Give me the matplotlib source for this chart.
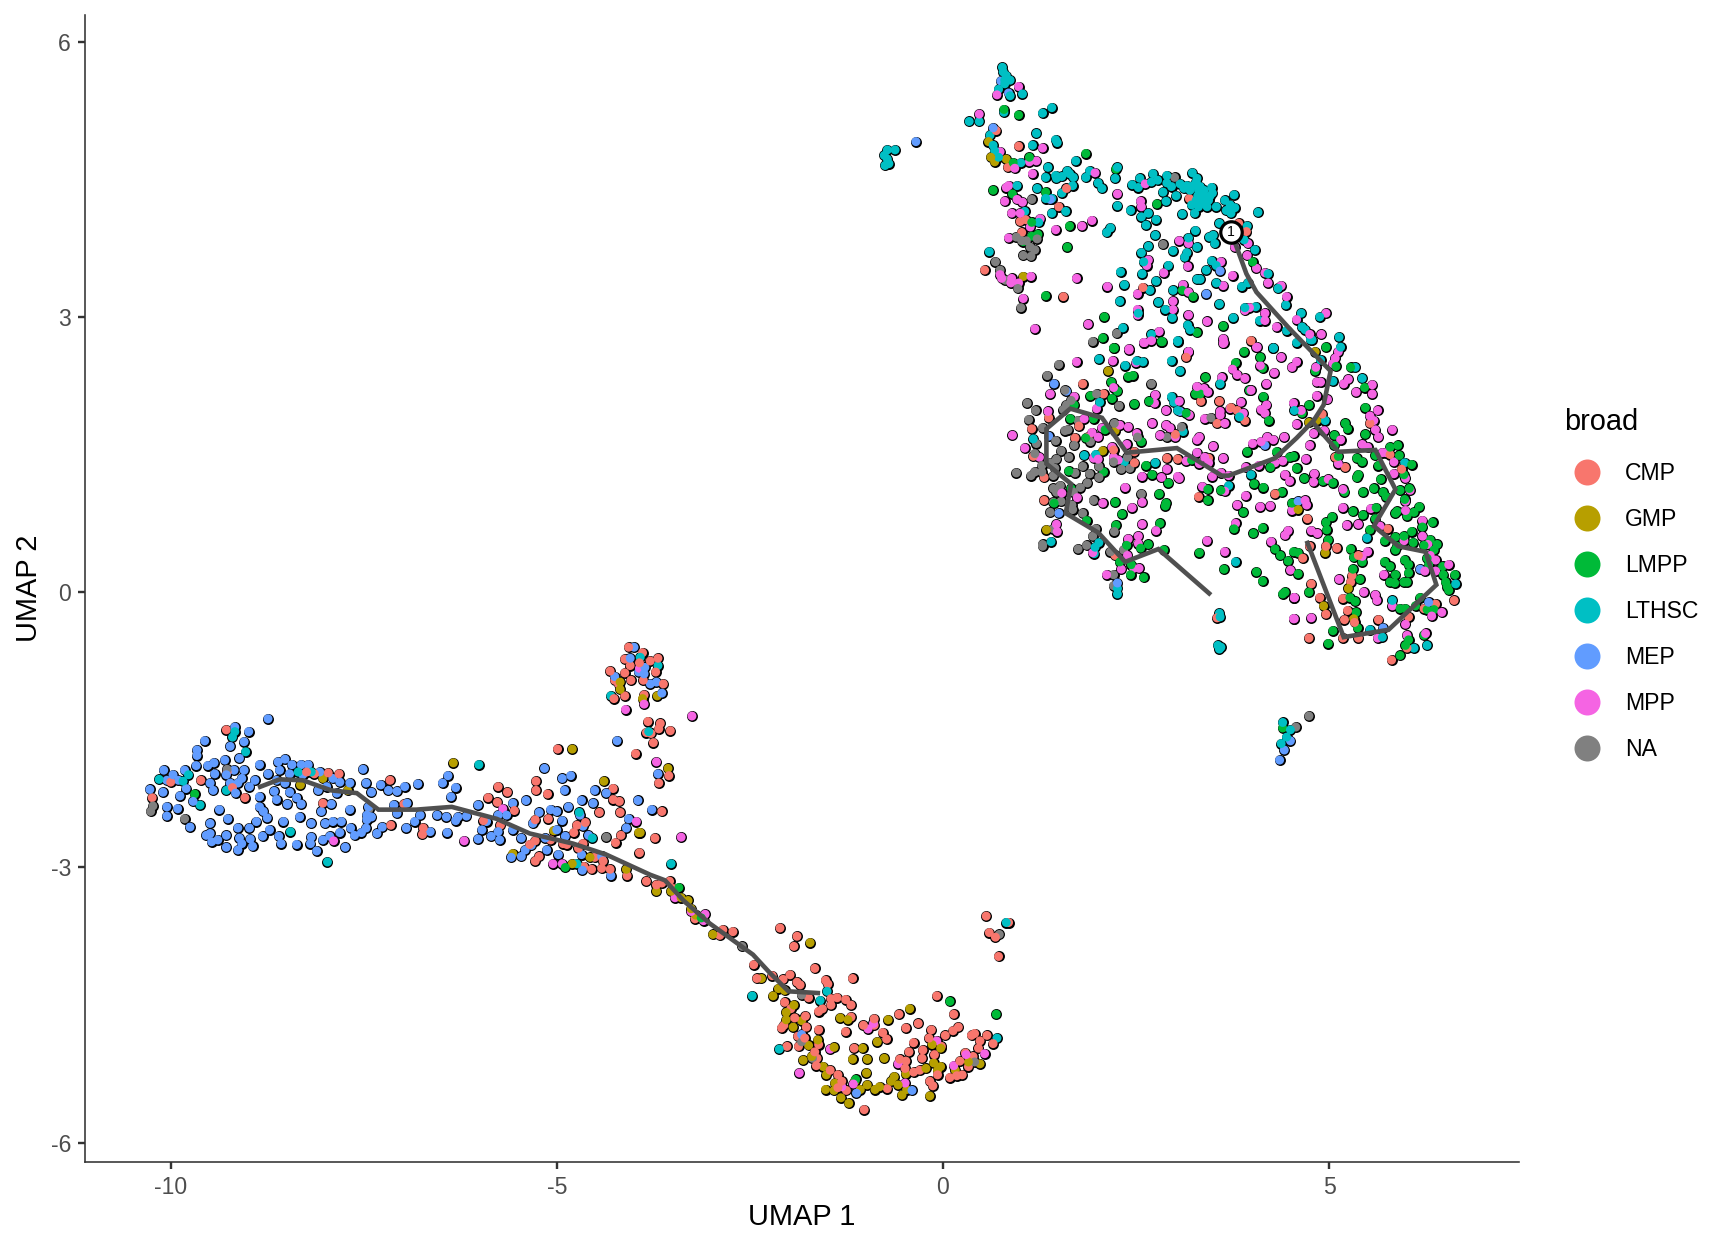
import numpy as np
import matplotlib
matplotlib.use("Agg")
import matplotlib.pyplot as plt
from matplotlib.lines import Line2D

plt.rcParams["font.family"] = ["Liberation Sans", "DejaVu Sans"]
plt.rcParams["axes.unicode_minus"] = False

# UMAP coordinates of the cells, one list per broad cell type
CMP = [(-9.28,-1.50),(-10.0,-2.07),(-10.24,-2.24),(-9.61,-2.05),(-9.27,-1.96),(-9.2,-2.13),(-9.04,-2.24),(-8.24,-1.96),(-8.14,-1.98),(-7.96,-1.97),(-7.82,-1.98),(-7.16,-2.05),(-6.98,-2.31),(-7.15,-2.54),(-6.73,-2.57),(-6.74,-2.64),(-8.03,-2.30),(-5.76,-2.12),(-5.64,-2.18),(-5.89,-2.24),(-5.77,-2.29),(-5.55,-2.38),(-5.95,-2.49),(-5.73,-2.54),(-5.27,-2.06),(-5.27,-2.16),(-5.12,-2.20),(-4.99,-1.71),(-4.27,-2.14),(-4.27,-2.26),(-4.19,-2.28),(-4.45,-2.40),(-4.18,-2.40),(-5.11,-2.47),(-5.28,-2.48),(-4.74,-2.54),(-4.63,-2.51),(-4.78,-2.62),(-4.17,-2.65),(-4.24,-2.73),(-3.93,-2.84),(-5.35,-2.75),(-5.28,-2.71),(-5.08,-2.70),(-4.92,-2.74),(-4.87,-2.75),(-4.72,-2.79),(-4.66,-2.74),(-5.23,-2.88),(-5.28,-2.93),(-4.65,-2.99),(-4.55,-3.02),(-4.42,-3.01),(-4.40,-2.93),(-4.51,-2.89),(-4.31,-3.02),(-4.09,-3.09),
(-3.64,-2.39),(-3.73,-2.68),(-3.84,-3.15),(-3.71,-3.19),(-3.64,-3.17),(-3.54,-3.15),(-3.49,-3.23),(-3.21,-3.56),(-2.85,-3.68),(-2.89,-3.74),(-2.72,-3.70),(-2.11,-3.66),(-1.89,-3.75),(-1.93,-3.86),(-2.45,-4.06),(-2.41,-4.21),(-2.21,-4.18),(-2.07,-4.22),(-1.98,-4.17),(-1.89,-4.25),(-1.85,-4.28),(-1.66,-4.10),(-1.52,-4.23),(-1.49,-4.27),(-1.17,-4.21),(-1.74,-4.42),(-1.45,-4.43),(-1.37,-4.42),(-1.26,-4.44),(-1.19,-4.50),(-1.45,-4.50),(-1.56,-4.54),(-1.61,-4.57),(-2.05,-4.47),(-1.97,-4.54),(-1.92,-4.64),(-1.78,-4.62),(-2.06,-4.72),(-2.09,-4.75),(-1.77,-4.74),(-1.61,-4.77),(-1.88,-4.84),(-1.79,-4.86),(-1.87,-4.95),(-2.02,-4.95),(-1.61,-4.93),(-1.66,-5.01),(-1.63,-5.08),(-1.64,-5.16),(-1.46,-5.21),(-1.36,-5.26),(-1.31,-5.33),(-1.36,-5.40),(-1.25,-5.43),(-1.02,-5.64),(-0.72,-5.41),(-1.19,-4.63),(-1.26,-4.79),(-1.03,-4.72),(-0.89,-4.65),(-0.89,-4.72),(-0.78,-4.80),(-0.73,-4.87),(-0.57,-4.60),(-0.48,-4.75),(-0.32,-4.70),(-1.15,-4.97),(-0.08,-4.40),(0.14,-4.60),(0.20,-4.74),(0.13,-4.78),(0.03,-4.83),(-0.15,-4.77),(-0.18,-4.86),(-0.38,-4.91),(-0.44,-5.01),(-0.26,-4.99),(-0.27,-5.08),(-0.11,-5.04),(-0.02,-4.95),(-0.56,-5.09),(-0.48,-5.11),(-0.49,-5.19),(-0.38,-5.23),(-0.30,-5.21),(-0.17,-5.33),(-0.13,-5.38),(-0.07,-5.26),(0.09,-5.29),(0.18,-5.27),(0.25,-5.26),(0.33,-5.17),(0.22,-5.11),(0.29,-5.02),(0.46,-4.97),(0.39,-5.06),(0.37,-4.83),(0.41,-4.81),(0.48,-4.89),(0.57,-4.83),(0.65,-4.92),(0.56,-3.53),(0.85,-3.60),(0.60,-3.71),(0.68,-3.76),(0.72,-3.97),
(-4.07,-0.60),(-3.89,-0.66),(-4.12,-0.73),(-3.69,-0.72),(-3.79,-0.75),(-4.31,-0.86),(-4.12,-0.88),(-4.04,-0.96),(-3.93,-0.77),(-3.72,-0.87),(-3.62,-1.0),(-3.88,-0.96),(-4.2,-1.0),(-4.25,-0.96),(-4.05,-0.80),(-4.26,-1.16),(-4.12,-1.13),(-3.87,-1.12),(-3.82,-1.41),(-3.66,-1.43),(-3.68,-1.49),(-3.53,-1.51),(-3.84,-1.53),(-3.78,-1.54),(-3.75,-1.64),(-3.98,-1.76),(-3.55,-2.0),(-3.68,-2.08),
(0.69,5.03),(0.98,4.86),(0.84,4.63),(1.60,4.40),(1.50,4.20),(1.07,4.06),(1.0,4.04),(1.02,3.92),(0.54,3.51),(1.56,3.22),(3.19,4.29),(2.59,3.32),(3.83,4.02),(3.93,3.93),(3.99,2.74),
(3.15,2.56),(1.81,2.27),(2.08,2.16),(3.34,2.08),(1.37,1.90),(1.15,1.78),(1.76,1.81),(1.71,1.68),(1.88,1.69),(2.21,1.55),(2.48,1.53),(2.48,1.41),(2.90,1.46),(3.04,1.45),(3.44,1.46),(3.58,2.08),(3.73,2.01),(3.81,1.98),(3.91,1.87),(3.55,1.84),(3.01,1.72),(1.17,1.48),(1.31,1.25),(1.31,1.0),(3.31,1.04),(4.30,1.07),(3.55,-0.28),(2.23,0.40),
(4.91,1.94),(5.53,1.84),(5.08,1.47),(5.21,1.36),(5.79,1.50),(5.94,1.34),(4.72,0.80),(5.76,0.69),(4.75,0.50),(4.96,0.50),(5.10,0.48),(5.38,0.40),(4.66,0.37),(5.30,0.18),(5.28,0.11),(4.77,0.09),(4.88,-0.06),(5.18,-0.07),(4.96,-0.24),(5.24,-0.20),(5.20,-0.30),(5.33,-0.33),(5.64,-0.30),(4.74,-0.50),(5.18,-0.50),(5.38,-0.50),(6.38,-0.13),(6.23,-0.18),(6.62,-0.09),(6.03,-0.27),(5.81,-0.74),(6.01,-0.61)]

GMP = [(-6.34,-1.86),(-4.80,-1.71),(-4.39,-2.06),(-8.03,-2.03),(-8.32,-2.10),(-7.71,-2.16),(-3.94,-2.62),(-5.04,-2.60),(-5.57,-2.85),(-4.57,-2.89),(-4.80,-2.96),(-4.10,-3.02),
(-3.92,-2.62),(-3.71,-3.26),(-3.52,-3.26),(-3.39,-3.33),(-3.30,-3.36),(-3.26,-3.45),(-3.20,-3.52),(-2.98,-3.73),(-1.72,-3.82),(-2.35,-4.21),(-2.20,-4.40),(-2.13,-4.32),(-2.05,-4.34),(-1.93,-4.50),(-2.03,-4.58),(-2.03,-4.66),(-1.94,-4.74),(-1.83,-4.67),(-1.33,-4.64),(-1.23,-4.66),(-0.71,-4.66),(-0.43,-4.54),(-0.85,-4.90),(-1.62,-4.88),(-1.74,-4.94),(-1.41,-4.96),(-1.04,-4.97),(-1.17,-5.09),(-0.98,-5.09),(-0.76,-5.08),(-1.81,-5.10),(-1.70,-5.06),(-1.55,-5.17),(-1.51,-5.26),(-0.99,-5.24),(-1.40,-5.35),(-1.52,-5.42),(-1.41,-5.43),(-1.32,-5.51),(-1.22,-5.57),(-1.14,-5.33),(-1.07,-5.42),(-0.98,-5.37),(-0.88,-5.42),(-0.82,-5.39),(-0.67,-5.33),(-0.63,-5.28),(-0.58,-5.37),(-0.53,-5.48),(-0.47,-5.42),(-0.48,-5.25),(-0.22,-5.19),(-0.12,-5.13),(-0.03,-5.17),(-0.07,-5.21),(-0.17,-5.49),(-0.14,-4.93),(-0.03,-4.97),(0.16,-5.21),(0.33,-5.12),(0.48,-5.14),
(-4.18,-1.06),(-4.18,-0.98),(-3.89,-1.16),(-3.70,-1.13),(-3.56,-1.92),
(0.59,4.91),(0.62,4.74),(0.67,4.69),(0.82,4.72),(1.04,3.44),(2.14,2.41),(2.23,1.76),(2.07,1.54),(1.34,0.68),(4.60,0.90),
(4.82,2.62),(4.74,1.85),(4.84,1.87),(4.95,0.43),(5.25,0.04),(4.93,-0.15),(5.32,-0.29)]

LMPP = [(-9.69,-2.20),(-4.89,-3.0),(-3.42,-3.22),(-3.13,-3.55),(-1.13,-5.31),(0.09,-4.46),(0.69,-4.60),
(0.79,5.26),(0.98,5.20),(1.12,4.74),(0.91,4.68),(1.85,4.78),(0.65,4.38),(0.90,4.34),(1.33,4.36),(1.15,4.03),(1.15,3.88),(1.23,3.90),(1.64,3.99),(1.61,3.76),(1.33,3.23),(2.24,4.61),(2.77,4.23),(3.10,3.29),(3.24,3.22),(2.09,3.00),(2.07,2.77),(2.83,2.73),(3.29,2.83),(3.63,2.90),(4.01,3.60),(2.21,2.66),(1.04,3.82),
(2.22,2.66),(2.84,2.73),(3.90,2.62),(3.79,2.50),(4.11,2.56),(4.14,2.44),(2.40,2.35),(2.46,2.36),(2.18,2.29),(2.26,2.19),(1.91,2.14),(2.19,2.11),(2.48,2.05),(2.67,2.08),(3.40,2.34),(3.27,2.16),(3.33,2.16),(3.97,2.20),(4.15,2.13),(4.22,1.87),(3.15,1.95),(1.65,1.89),(1.95,1.89),(1.70,2.04),(1.85,1.68),(2.10,1.77),(2.57,1.64),(1.63,1.32),(2.08,1.31),(2.63,1.38),(2.71,1.28),(2.92,1.19),(2.80,1.07),(2.88,0.94),(2.89,0.97),(2.23,0.98),(2.32,0.85),(1.44,0.97),(1.66,1.13),(1.86,0.78),(2.24,0.73),(2.81,0.75),(2.38,0.51),(2.56,0.48),(2.66,0.52),(2.86,0.46),(2.29,0.33),(2.44,0.30),(2.43,0.19),(2.60,0.16),(3.32,0.43),(3.64,0.25),(4.06,0.22),(4.14,0.12),(4.40,-0.02),(4.43,-0.0),(4.02,0.64),(4.14,0.70),(3.77,0.69),(3.89,0.87),(3.43,1.12),(3.43,1.0),(3.60,1.11),(4.03,1.18),(4.15,1.14),(4.39,1.09),(4.52,0.97),(3.94,1.53),(4.24,1.36),(4.32,1.53),(4.49,1.47),(4.54,1.48),(4.58,1.35),(4.30,0.47),(4.37,0.40),(4.47,0.34),(4.54,0.44),(4.60,0.20),(4.60,0.43),(3.22,1.44),
(4.96,2.67),(4.82,2.41),(5.09,2.46),(5.28,2.45),(5.46,2.23),(5.47,2.01),(4.74,2.04),(4.65,1.95),(5.21,1.84),(5.24,1.78),(5.47,1.72),(5.07,1.71),(5.07,1.60),(5.12,1.48),(5.60,1.49),(5.79,1.58),(5.89,1.60),(5.91,1.49),(5.64,1.38),(6.07,1.39),(5.36,1.46),(5.43,1.42),(5.38,1.28),(5.36,1.25),(5.67,1.23),(5.97,1.28),(4.68,1.24),(4.92,1.21),(5.05,1.19),(5.20,1.09),(5.44,1.09),(5.58,1.13),(5.70,1.09),(5.74,1.04),(5.92,1.11),(5.98,1.01),(6.04,1.13),(5.31,0.88),(5.04,0.82),(4.96,0.76),(4.97,0.68),(5.44,0.84),(5.61,0.92),(5.60,0.80),(5.53,0.68),(5.88,0.88),(5.86,0.86),(6.01,0.83),(6.10,0.87),(6.17,0.93),(6.34,0.76),(6.21,0.71),(5.72,0.56),(5.86,0.60),(5.97,0.61),(6.07,0.66),(6.09,0.54),(5.88,0.50),(5.86,0.46),(4.99,0.57),(5.28,0.47),(5.32,0.38),(5.43,0.33),(5.31,0.25),(5.40,0.14),(5.72,0.33),(5.79,0.28),(5.98,0.35),(6.03,0.30),(6.03,0.21),(5.86,0.19),(5.79,0.11),(5.85,0.10),(5.97,0.11),(6.01,0.11),(6.23,0.51),(6.31,0.57),(6.40,0.52),(6.36,0.46),(6.27,0.37),(6.29,0.30),(6.47,0.28),(6.48,0.19),(6.51,0.11),(6.55,0.02),(6.63,0.19),(6.53,0.06),(5.34,-0.10),(5.27,-0.06),(4.74,-0.00),(5.35,-0.22),(5.92,-0.18),(5.99,-0.18),(6.18,-0.06),(6.12,-0.15),(6.27,-0.19),(6.36,-0.19),(5.37,-0.39),(5.05,-0.42),(4.99,-0.56),(5.92,-0.69),(6.03,-0.52),(5.99,-0.58),(6.23,-0.47),(4.40,-1.48)]

LTHSC = [(-6.01,-1.88),(-10.15,-2.04),(-9.77,-1.99),(-9.84,-2.06),(-9.28,-2.16),(-9.03,-1.74),(-9.17,-1.52),(-9.2,-1.58),(-9.62,-2.32),(-8.45,-2.61),(-7.97,-2.94),(-8.35,-1.96),(-8.18,-1.96),(-4.71,-2.40),(-4.54,-2.68),(-4.74,-2.96),
(-3.52,-2.96),(-2.47,-4.40),(-1.50,-4.35),(-1.59,-4.45),(-2.12,-4.98),(0.70,-4.86),(0.82,-3.60),(-3.92,-0.71),(-3.69,-0.80),(-4.30,-1.13),(-3.81,-1.52),
(-0.72,4.82),(-0.76,4.76),(-0.72,4.72),(-0.70,4.67),(-0.75,4.65),(-0.62,4.82),(4.4,-1.42),(4.5,-1.5),(4.45,-1.58),(4.38,-1.65),(3.56,-0.58),(3.60,-0.60),(3.58,-0.62),
(0.77,5.72),(0.78,5.67),(0.82,5.63),(0.80,5.58),(0.87,5.58),(0.80,5.54),(0.72,5.48),(0.87,5.41),(1.03,5.43),(0.79,5.23),(0.47,5.13),(0.34,5.13),(1.29,5.22),(1.41,5.28),(1.21,5.00),(1.16,4.87),(1.46,4.93),(1.48,4.90),(0.61,4.98),(0.65,4.87),(0.67,4.81),(0.72,4.74),(1.01,4.68),(1.72,4.70),(1.36,4.63),(1.33,4.52),(1.46,4.54),(1.47,4.51),(1.54,4.53),(1.61,4.59),(1.69,4.52),(1.68,4.43),(1.64,4.56),(1.54,4.35),(1.22,4.40),(1.33,4.29),(1.41,4.29),(0.96,4.43),(1.41,4.13),(1.59,4.15),(1.06,4.15),(1.24,4.03),
(1.90,4.59),(1.85,4.52),(2.01,4.46),(2.06,4.40),(2.23,4.51),(2.26,4.63),(2.26,4.21),(2.43,4.16),(2.45,4.44),(2.53,4.41),(2.55,4.51),(2.57,4.09),(2.66,4.13),(2.63,4.00),(2.76,4.06),(2.70,4.47),(2.72,4.56),(2.78,4.49),(2.90,4.54),(2.90,4.46),(2.96,4.42),(2.85,4.36),(2.89,4.26),(3.02,4.32),(3.07,4.45),(3.16,4.43),(3.23,4.57),(3.29,4.51),(3.24,4.43),(3.31,4.38),(3.35,4.31),(3.48,4.41),(3.49,4.35),(3.37,4.34),(3.44,4.27),(3.22,4.22),(3.31,4.20),(3.42,4.20),(3.54,4.20),(3.10,4.12),(3.26,4.13),(3.65,4.27),(3.72,4.22),(3.78,4.19),(3.67,4.16),(3.73,4.13),(3.77,4.33),(4.08,4.14),(3.58,4.02),(3.94,3.99),
(3.28,4.47),(3.33,4.42),(3.38,4.38),(3.30,4.32),(3.40,4.28),(3.36,4.24),(3.28,4.27),(3.46,4.32),(3.12,4.40),(3.20,4.38),
(2.12,3.92),(2.17,3.97),(2.75,3.89),(3.27,3.94),(3.45,3.87),(3.52,3.80),(3.50,3.89),(3.90,3.84),(4.04,3.73),(2.66,3.77),(2.57,3.70),(2.60,3.60),(2.58,3.47),(2.98,3.72),(2.92,3.56),(3.18,3.86),(3.29,3.76),(3.16,3.70),(3.13,3.65),(3.48,3.61),(3.54,3.56),(3.41,3.51),(2.30,3.49),(2.35,3.35),(2.76,3.39),(2.68,3.29),(3.29,3.41),(3.33,3.41),(2.98,3.29),(3.54,3.37),(3.87,3.33),(3.95,3.37),(0.6,3.71),(2.29,3.17),(2.79,3.16),(2.88,3.08),(2.97,2.99),(3.58,3.14),(3.91,3.10),(4.05,3.11),(3.76,2.99),(4.10,2.96),(3.17,2.91),(3.20,2.86),(2.33,2.88),(2.70,2.81),(3.04,2.74),(4.28,2.66),(4.44,3.13),(4.45,2.85),(4.21,3.47),(4.34,3.31),(2.53,3.04),
(2.02,2.54),(2.36,2.47),(2.59,2.51),(2.96,2.52),(3.07,2.41),(3.04,2.73),(4.28,2.66),(4.58,2.72),(2.51,2.52),(2.03,2.07),(2.96,2.13),(2.99,2.07),(3.04,1.98),(3.11,1.75),(3.59,2.27),(3.84,1.91),(4.55,1.98),(1.17,1.67),(1.83,1.49),(1.98,1.50),(2.35,1.42),(2.75,1.41),(3.99,1.28),(3.70,1.16),(2.02,0.54),(1.97,0.49),(1.96,0.42),(1.40,0.55),(3.79,0.33),(2.26,-0.02),(2.26,0.04),(3.58,-0.23),(3.59,-0.27),
(4.64,3.04),(4.88,3.0),(4.65,2.89),(4.69,2.86),(4.76,2.75),(4.78,2.75),(5.13,2.78),(5.15,2.67),(4.89,2.53),(5.05,2.30),(5.34,2.45),(5.43,2.33),(4.95,1.87),(5.98,1.41),(5.49,0.59),(6.64,0.09),(5.82,-0.09),(5.53,-0.41),(5.69,-0.49),(6.10,-0.61),(6.27,-0.58)]

MEP = [(-8.74,-1.38),(-9.17,-1.47),(-8.99,-1.52),(-9.56,-1.62),(-9.05,-1.63),(-9.23,-1.68),(-9.66,-1.72),(-9.66,-1.78),(-9.11,-1.81),(-9.67,-1.89),(-9.30,-1.83),(-9.52,-1.89),(-9.44,-1.86),(-10.09,-1.94),(-9.82,-1.94),(-9.97,-1.99),(-9.90,-2.05),(-10.05,-2.05),(-9.43,-1.98),(-9.18,-1.94),(-9.05,-1.94),(-9.28,-1.99),(-9.08,-2.03),(-9.13,-2.08),(-9.23,-2.08),(-8.85,-1.88),(-8.61,-1.85),(-8.52,-1.82),(-8.43,-1.88),(-8.31,-1.88),(-8.22,-1.88),(-8.74,-1.98),(-8.59,-1.94),(-8.46,-1.98),(-8.91,-2.05),(-8.98,-2.12),(-8.63,-2.05),(-8.52,-2.08),(-8.29,-1.99),(-8.07,-1.96),(-7.90,-2.03),(-7.81,-2.07),(-7.98,-2.12),(-8.09,-2.16),(-7.85,-2.19),(-7.68,-2.08),(-7.51,-1.93),(-7.47,-2.08),(-7.40,-2.18),(-7.28,-2.10),(-7.18,-2.16),(-7.07,-2.17),(-6.97,-2.12),(-6.80,-2.09),(-7.68,-2.37),(-7.44,-2.34),(-7.46,-2.43),(-7.40,-2.45),(-7.46,-2.48),(-7.11,-2.32),(-6.94,-2.30),(-7.07,-2.41),(-6.77,-2.43),(-6.84,-2.50),(-6.95,-2.57),(-6.64,-2.61),(-6.55,-2.43),(-6.43,-2.45),(-6.28,-2.45),(-6.31,-2.49),(-6.17,-2.44),(-6.42,-2.62),(-6.37,-2.23),(-6.31,-2.13),(-6.48,-2.08),(-6.41,-2.00),(-6.02,-2.32),(-5.91,-2.50),(-5.97,-2.59),(-6.02,-2.69),(-5.85,-2.66),(-5.74,-2.70),(-5.76,-2.61),(-5.65,-2.43),(-5.76,-2.43),(-5.57,-2.59),(-5.57,-2.30),(-5.40,-2.27),(-5.46,-2.68),(-5.46,-2.88),(-5.59,-2.89),(-5.41,-2.81),(-5.33,-2.76),(-5.31,-2.52),(-5.23,-2.40),(-5.13,-2.81),(-5.08,-2.37),(-5.00,-2.39),(-4.93,-2.49),(-5.00,-2.59),(-5.16,-1.92),(-4.93,-2.03),(-4.82,-2.00),(-4.90,-2.16),(-4.85,-2.34),(-4.68,-2.27),(-4.53,-2.30),(-4.70,-2.43),(-4.66,-2.55),(-4.59,-2.65),(-4.51,-2.16),(-4.36,-2.19),(-3.95,-2.27),(-4.10,-2.57),(-4.07,-2.47),(-4.22,-1.62),(-5.15,-2.68),(-4.89,-2.66),(-4.98,-2.86),(-4.68,-2.86),(-4.67,-3.03),(-4.30,-3.09),(-4.42,-2.88),
(-10.27,-2.15),(-10.10,-2.18),(-9.88,-2.22),(-9.80,-2.14),(-9.71,-2.28),(-9.49,-2.08),(-9.45,-2.16),(-9.16,-2.19),(-8.85,-2.23),(-8.85,-2.34),(-8.80,-2.39),(-8.75,-2.46),(-8.89,-2.50),(-8.98,-2.57),(-10.05,-2.34),(-10.05,-2.44),(-9.91,-2.36),(-9.37,-2.37),(-9.26,-2.47),(-9.49,-2.52),(-9.75,-2.56),(-9.49,-2.63),(-9.54,-2.65),(-9.47,-2.72),(-9.39,-2.70),(-9.28,-2.78),(-9.28,-2.65),(-9.13,-2.57),(-9.11,-2.68),(-9.13,-2.81),(-9.08,-2.74),(-8.97,-2.69),(-8.94,-2.77),(-8.81,-2.66),(-8.72,-2.59),(-8.60,-2.66),(-8.57,-2.74),(-8.37,-2.75),(-8.54,-2.50),(-8.33,-2.45),(-8.18,-2.52),(-8.63,-2.26),(-8.49,-2.31),(-8.46,-2.18),(-8.37,-2.24),(-8.31,-2.31),(-8.05,-2.39),(-7.92,-2.31),(-8.00,-2.52),(-7.90,-2.50),(-7.79,-2.50),(-7.67,-2.57),(-7.47,-2.57),(-7.53,-2.62),(-7.62,-2.65),(-7.81,-2.62),(-7.94,-2.66),(-8.03,-2.70),(-8.18,-2.67),(-8.19,-2.74),(-8.11,-2.82),(-7.74,-2.78),(-7.33,-2.63),(-7.26,-2.56),(-8.66,-2.17),
(-3.77,-2.37),(-1.83,-4.82),(-1.12,-5.46),(-0.40,-5.43),(-4.0,-0.60),(-4.05,-0.72),(-3.94,-0.87),(-3.86,-0.82),(-3.87,-0.89),(-3.71,-0.98),(-3.79,-1.0),(-3.64,-1.10),(-3.69,-1.98),(-4.25,-0.92),
(-0.35,4.91),(4.42,-1.72),(4.36,-1.83),(4.5,-1.62),
(0.75,5.57),(0.85,5.44),(0.65,5.06),(1.39,4.28),(3.59,3.50),(3.41,3.25),(1.44,2.27),(1.60,2.19),(1.37,1.70),(3.07,1.97),(4.17,1.60),(1.50,0.86),(2.26,0.10),(4.60,0.99),(6.18,0.25),(6.29,-0.11),(5.70,-0.39)]

MPP = [(-7.89,-2.71),(-6.20,-2.71),(-5.70,-2.36),(-3.97,-2.50),(-5.05,-2.96),(-4.93,-2.96),
(-3.39,-2.67),(-3.47,-3.33),(-3.08,-3.51),(-3.26,-3.48),(-3.10,-3.58),(-0.97,-4.76),(-0.90,-4.70),(-1.46,-4.98),(-1.86,-5.24),(-0.58,-5.14),(-0.08,-4.89),(0.14,-5.16),(0.30,-5.04),(0.54,-5.03),(-1.16,-5.36),(-0.49,-5.35),(-1.31,-5.39),
(-4.11,-1.28),(-3.93,-0.83),(-3.87,-1.22),(-3.25,-1.35),(-3.71,-1.85),
(0.98,5.51),(0.70,5.42),(0.47,5.21),(1.29,4.84),(0.74,4.80),(1.12,4.69),(1.21,4.70),(0.93,4.62),(1.16,4.56),(1.97,4.57),(0.82,4.41),(0.85,4.43),(0.80,4.26),(0.96,4.28),(1.03,4.25),(0.89,4.13),(1.0,4.13),(1.26,4.07),(1.13,3.98),(1.46,3.95),(1.80,3.99),(1.93,4.05),(2.26,4.34),(2.56,4.26),(2.57,4.20),(2.62,4.45),(0.85,3.86),(0.74,3.46),(0.76,3.42),(0.89,3.42),(0.88,3.37),(0.98,3.37),(1.14,3.44),(1.73,3.42),(2.13,3.33),(1.04,3.20),(1.19,2.87),(1.88,2.92),(3.06,3.83),(3.18,3.80),(2.66,3.62),(2.64,3.56),(3.17,3.55),(2.86,3.48),(3.60,3.60),(3.75,3.45),(3.63,3.34),(3.11,3.35),(3.18,3.27),(2.52,3.25),(2.98,3.17),(2.98,3.08),(2.52,3.08),(2.52,3.02),(3.18,3.02),(3.42,2.95),(3.91,3.07),(3.97,3.10),(4.17,3.04),(4.17,2.96),(4.32,2.89),(2.80,2.84),(2.70,2.74),(2.60,2.72),(3.63,2.76),(3.63,2.71),(4.06,2.67),(3.18,2.62),(2.41,2.65),(3.78,3.76),(3.95,3.80),(3.94,3.67),(4.06,3.53),(4.17,3.48),(4.21,3.37),(4.38,3.34),(4.45,3.22),
(1.73,2.51),(2.20,2.52),(2.41,2.64),(1.39,2.16),(1.70,2.13),(2.21,2.23),(1.36,1.97),(1.99,2.0),(1.83,1.89),(2.06,1.79),(0.90,1.71),(1.06,1.57),(1.25,1.47),(1.93,1.74),(2.01,1.69),(2.40,1.80),(2.51,1.73),(2.29,1.82),(2.38,1.61),(2.19,1.58),(2.21,1.47),(2.27,1.44),(1.95,1.46),(2.01,1.45),(1.54,1.08),(1.74,1.03),(2.07,0.97),(2.45,0.92),(2.58,0.98),(2.36,1.14),(2.58,1.26),(2.90,1.34),(2.83,1.25),(3.04,1.26),(3.06,1.24),(2.71,1.84),(2.89,1.82),(2.94,1.79),(2.81,1.71),(3.01,1.69),(2.75,2.15),(2.74,2.06),(2.89,1.98),(3.06,2.08),(3.19,1.93),(2.50,2.50),(2.61,2.72),(2.70,2.75),(3.18,2.62),(3.29,2.24),(3.38,2.22),(3.43,2.18),(3.39,1.89),(3.61,2.34),(3.75,2.43),(3.81,2.37),(3.91,2.33),(3.99,2.20),(3.64,2.72),(4.07,2.67),(4.38,2.56),(4.11,2.47),(4.29,2.39),(4.52,2.45),(4.58,2.51),(4.19,2.27),(3.86,2.07),(4.19,2.04),(4.12,1.99),(4.17,1.95),(3.59,1.97),(3.59,1.93),(3.65,1.84),(3.72,2.0),(3.89,1.95),(3.32,1.69),(3.29,1.66),(3.50,1.59),(3.29,1.52),(3.39,1.47),(3.44,1.41),(3.63,1.46),(3.32,1.40),(3.15,1.43),(3.49,1.26),(3.60,1.30),(3.70,1.27),(3.92,1.36),(4.09,1.38),(4.30,1.41),(4.40,1.43),(4.01,1.62),(4.12,1.64),(4.20,1.69),(4.28,1.66),(4.42,1.69),(4.54,2.06),(4.58,1.83),(4.43,1.28),(4.49,1.21),(3.36,1.15),(3.65,1.10),(3.92,1.05),(3.81,0.95),(4.11,0.93),(4.24,0.94),(4.52,0.89),(3.79,0.75),(2.76,0.67),(2.58,0.74),(2.53,0.61),(2.53,0.53),(2.40,0.58),(2.39,0.40),(2.31,0.25),(2.47,0.26),(2.54,0.26),(2.12,0.19),(3.42,0.56),(3.65,0.44),(4.25,0.55),(4.47,0.67),(4.43,0.62),(4.50,0.24),(4.55,-0.06),(4.54,-0.29),(1.47,0.74),(1.48,0.66),(1.94,0.43),
(4.96,3.04),(4.58,2.97),(4.90,2.81),(4.75,2.81),(5.12,2.62),(5.08,2.55),(5.05,2.49),(4.83,2.45),(4.89,2.29),(4.84,2.29),(5.19,2.27),(5.25,2.32),(5.35,2.18),(5.56,2.26),(5.56,2.16),(4.84,2.14),(4.98,2.10),(4.64,1.98),(5.63,1.98),(5.53,1.92),(5.58,1.87),(5.82,1.77),(5.60,1.77),(5.64,1.69),(4.80,1.73),(4.94,1.76),(5.15,1.66),(5.43,1.61),(5.50,1.58),(5.69,1.52),(5.74,1.52),(4.75,1.60),(4.70,1.45),(5.12,1.40),(5.84,1.42),(5.84,1.29),(5.99,1.24),(4.81,1.29),(4.80,1.20),(4.99,1.23),(5.18,1.12),(6.05,1.11),(4.69,1.0),(4.71,0.95),(5.18,0.92),(5.54,0.91),(5.99,0.99),(5.99,0.89),(5.23,0.73),(5.38,0.74),(5.66,0.72),(4.77,0.67),(4.85,0.64),(6.21,0.78),(6.21,0.61),(6.28,0.52),(5.50,0.44),(5.43,0.39),(6.31,0.40),(6.38,0.35),(6.55,0.30),(6.24,0.23),(6.38,0.23),(5.71,0.19),(5.97,0.56),(5.13,0.14),(5.45,0.00),(5.60,-0.03),(5.62,-0.09),(5.82,-0.15),(4.77,-0.28),(5.99,-0.35),(6.46,-0.22),(6.33,-0.26),(5.63,-0.50),(6.25,-0.45),(6.01,-0.47),(4.55,-0.29),(4.55,-0.06)]

NA_CELLS = [(-10.23,-2.33),(-10.26,-2.39),(-9.82,-2.47),(-9.27,-1.93),(-7.43,-2.36),(-4.36,-2.67),(-2.60,-3.86),(-1.83,-4.39),(-1.83,-4.90),(-1.69,-5.08),(0.41,-5.12),(0.73,-3.73),(4.74,-1.35),(4.57,-1.47),
(1.15,4.28),(0.95,3.87),(1.02,3.83),(1.08,3.83),(1.13,3.76),(1.19,3.73),(1.04,3.67),(1.14,3.66),(1.22,3.85),(0.68,3.60),(0.74,3.51),(0.81,3.40),(0.97,3.31),(1.01,3.10),(3.0,4.52),(2.85,3.79),(1.94,2.73),(2.25,2.82),
(1.50,2.48),(1.35,2.36),(1.58,2.20),(1.99,2.16),(1.09,2.06),(1.20,1.98),(1.11,1.88),(1.29,1.79),(1.66,2.09),(1.60,2.04),(1.56,1.99),(1.75,1.87),(1.62,1.77),(1.58,1.76),(1.46,1.65),(1.70,1.60),(1.91,1.64),(2.70,2.27),(2.28,2.03),(2.22,1.84),(2.52,1.69),(2.39,1.47),(2.21,1.42),(1.19,1.51),(1.21,1.62),(1.53,1.54),(1.63,1.47),(1.47,1.45),(1.28,1.38),(1.39,1.41),(1.45,1.35),(0.95,1.30),(1.14,1.27),(1.19,1.31),(1.28,1.31),(1.43,1.27),(1.71,1.30),(1.81,1.37),(1.90,1.29),(2.02,1.37),(2.02,1.25),(2.31,1.34),(2.42,1.35),(1.87,1.19),(1.78,1.14),(1.43,1.13),(1.52,1.16),(1.47,1.09),(1.69,1.09),(1.53,0.99),(1.43,0.98),(1.67,0.95),(1.68,0.90),(1.95,1.0),(1.81,0.86),(1.39,0.87),(1.43,0.69),(1.98,0.69),(1.94,0.61),(2.22,0.66),(1.29,0.52),(1.29,0.50),(1.75,0.47),(1.86,0.51),(2.34,0.46),(2.17,0.44),(2.21,0.19),(2.21,0.07),(2.57,1.07),(3.47,1.90),(2.90,1.69),(3.09,1.80)]

BROAD_LABELS = ["CMP", "GMP", "LMPP", "LTHSC", "MEP", "MPP", "NA"]
BROAD_COLORS = ["#F8766D", "#B79F00", "#00BA38", "#00BFC4", "#619CFF", "#F564E3", "#808080"]
BROAD_CELLS = [CMP, GMP, LMPP, LTHSC, MEP, MPP, NA_CELLS]

# Principal graph branches
TRAJ_LOWER_X = [-8.87,-8.59,-8.29,-7.92,-7.59,-7.31,-6.82,-6.36,-5.78,-5.35,-4.79,-4.36,-3.79,-3.60,-3.36,-3.02,-2.46,-2.24,-2.0,-1.59]
TRAJ_LOWER_Y = [-2.13,-2.04,-2.05,-2.16,-2.19,-2.37,-2.37,-2.34,-2.47,-2.63,-2.74,-2.86,-3.08,-3.14,-3.36,-3.61,-3.95,-4.15,-4.35,-4.37]
TRAJ_UPPER_X = [3.73,3.93,4.06,4.49,5.02,4.93,4.80,4.58,4.30,3.70,3.61,3.03,2.38,2.06,1.65,1.34,1.34,1.66,1.59,2.01,2.36,2.79,3.47]
TRAJ_UPPER_Y = [3.93,3.47,3.27,2.87,2.41,2.04,1.87,1.68,1.46,1.27,1.27,1.57,1.52,1.90,2.0,1.78,1.40,1.18,0.86,0.65,0.33,0.47,-0.03]
TRAJ_RIGHT_X = [4.80,5.12,5.60,5.86,5.58,5.90,6.25,6.39,5.77,5.19,4.71]
TRAJ_RIGHT_Y = [1.84,1.53,1.55,1.12,0.72,0.50,0.44,0.08,-0.41,-0.49,0.56]
ROOT_X, ROOT_Y = 3.73, 3.93

X_TICKS = [-10, -5, 0, 5]
Y_TICKS = [-6, -3, 0, 3, 6]

fig = plt.figure(figsize=(12, 8.6667), dpi=144)
ax = fig.add_axes([85 / 1728, 1 - 1162 / 1248, (1519 - 85) / 1728, (1162 - 15) / 1248])

xy = np.array([p for cells in BROAD_CELLS for p in cells])
col = np.array([BROAD_COLORS[i] for i, cells in enumerate(BROAD_CELLS) for _ in cells])
# Fixed, label-independent drawing order so no cell type always sits on top
order = np.argsort((xy[:, 0] * 731 + xy[:, 1] * 419) % 11)

# Black backing discs first, coloured discs above them, as in monocle3 plots
ax.scatter(xy[:, 0], xy[:, 1], s=30, c="black", linewidths=0, zorder=2)
ax.scatter(xy[order, 0], xy[order, 1], s=20, c=col[order], linewidths=0, zorder=3)

for tx, ty in [(TRAJ_LOWER_X, TRAJ_LOWER_Y), (TRAJ_UPPER_X, TRAJ_UPPER_Y), (TRAJ_RIGHT_X, TRAJ_RIGHT_Y)]:
    ax.plot(tx, ty, color="#505050", lw=2.3, solid_capstyle="butt", solid_joinstyle="miter", zorder=4)

ax.scatter([ROOT_X], [ROOT_Y], s=115, c="white", edgecolors="black", linewidths=1.6, zorder=5)
ax.text(ROOT_X, ROOT_Y, "1", ha="center", va="center", fontsize=7, color="black", zorder=6)

ax.set_xlim(-11.11, 7.46)
ax.set_ylim(-6.21, 6.29)
ax.set_xticks(X_TICKS)
ax.set_yticks(Y_TICKS)
ax.tick_params(axis="both", length=3.5, width=1.2, color="#333333", labelcolor="#4d4d4d", labelsize=11.5, pad=3.5)
ax.set_xlabel("UMAP 1", fontsize=14.5, labelpad=2)
ax.set_ylabel("UMAP 2", fontsize=14.5, labelpad=4)
for side in ("top", "right"):
    ax.spines[side].set_visible(False)
for side in ("left", "bottom"):
    ax.spines[side].set_linewidth(0.8)
    ax.spines[side].set_color("#333333")

handles = [Line2D([], [], linestyle="", marker="o", markersize=13, markerfacecolor=c, markeredgewidth=0, label=l)
           for l, c in zip(BROAD_LABELS, BROAD_COLORS)]
leg = ax.legend(handles=handles, title="broad", loc="upper left", bbox_to_anchor=(1543 / 1728, 1 - 387 / 1248),
                bbox_transform=fig.transFigure, frameon=False, fontsize=11.5, title_fontsize=14.5,
                labelspacing=1.0, handletextpad=0.65, borderpad=0.4, alignment="left")
leg._legend_box.sep = 13

fig.savefig("out.png", dpi=144)
